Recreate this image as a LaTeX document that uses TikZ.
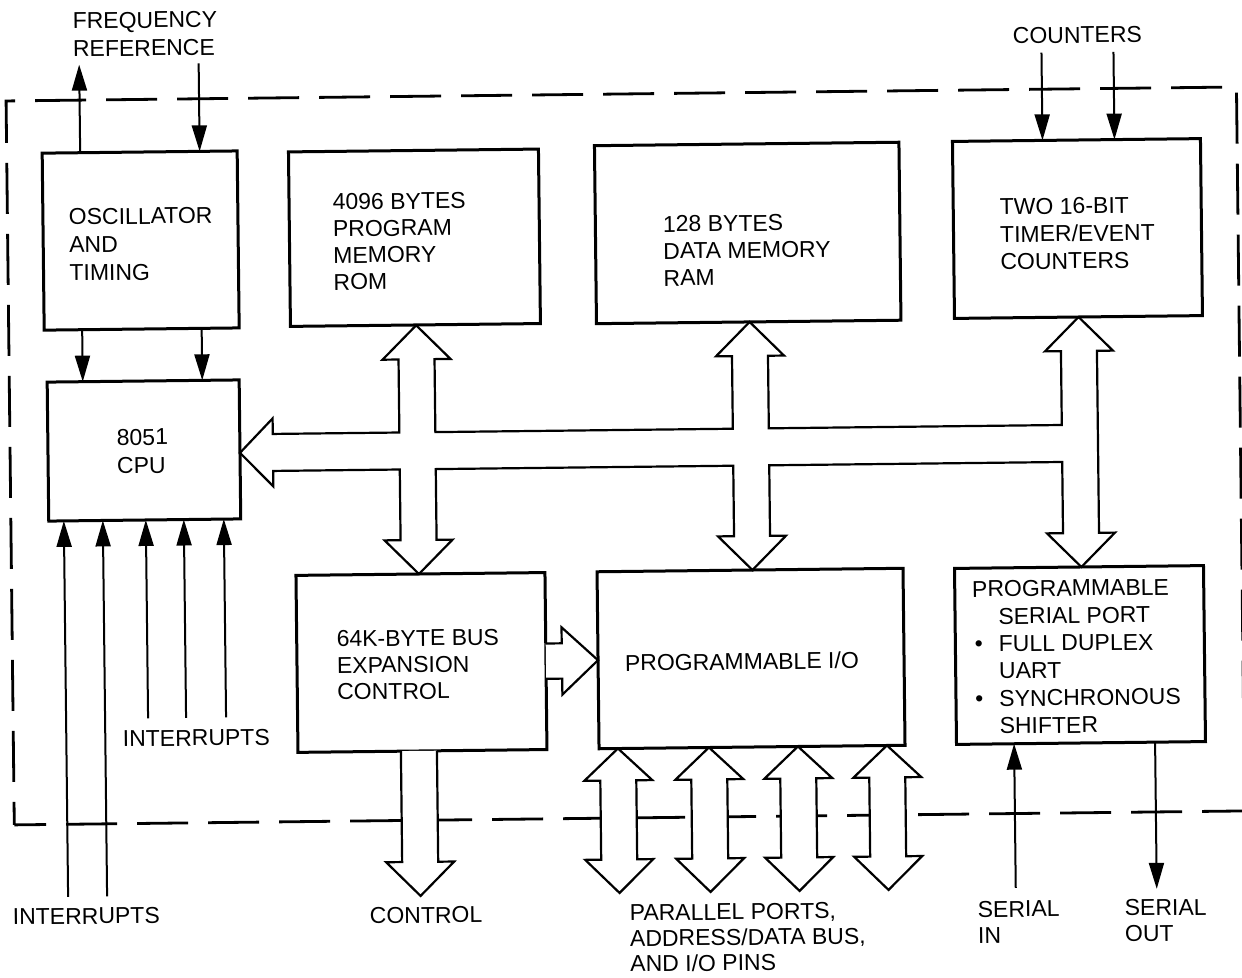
\documentclass[tikz,border=0pt]{standalone}
\usepackage{fontspec}
\setmainfont{Liberation Sans}
\usetikzlibrary{arrows.meta,calc}
\begin{document}
\begin{tikzpicture}[x=0.5pt,y=-0.5pt,
  box/.style={draw,line width=1.5pt,inner sep=0pt,outer sep=0pt},
  fat/.style={draw,fill=white,line width=1.1pt,line join=miter},
  sig/.style={line width=1pt,-{Triangle[length=13pt,width=7.5pt]}},
  lbl/.style={inner sep=0pt,outer sep=0pt,anchor=north west,align=left,font=\fontsize{11.5}{13.75}\selectfont},
  dframe/.style={line width=1.4pt,dash pattern=on 25.5pt off 10pt,dash phase=14pt}]
\useasboundingbox (0,0) rectangle (1242,978);
\begin{scope}[rotate around={0.65:(621,489)},transform shape]
% dashed chip outline
\draw[dframe] (10.5,818) -- (10.5,94) -- (1241,94) -- (1241,818) -- cycle;

% internal bus (fat outline)
\draw[fat] (240.4,448.5) -- (273.4,414.5) -- (273.4,430) -- (400,430) -- (400,357) -- (384,357) -- (418,323) -- (452,357) -- (436,357) -- (436,430)
  -- (733.5,430) -- (733.5,357.4) -- (717.5,357.4) -- (751.5,323.4) -- (785.5,357.4) -- (769.5,357.4) -- (769.5,430)
  -- (1062.5,430) -- (1062.5,356.2) -- (1046.5,356.2) -- (1080.5,322.2) -- (1114.5,356.2) -- (1098.5,356.2)
  -- (1098.5,538.2) -- (1114.5,538.2) -- (1080.5,572.2) -- (1046.5,538.2) -- (1062.5,538.2) -- (1062.5,467)
  -- (769.5,467) -- (769.5,537.5) -- (785.5,537.5) -- (751.5,571.5) -- (717.5,537.5) -- (733.5,537.5) -- (733.5,467)
  -- (436,467) -- (436,537.7) -- (452,537.7) -- (418,571.7) -- (384,537.7) -- (400,537.7) -- (400,467)
  -- (273.4,467) -- (273.4,482.5) -- cycle;

% boxes
\node[box,minimum width=97.5pt,minimum height=88.5pt] (osc) at (143.5,235.1) {};
\node[box,minimum width=96pt,minimum height=69.5pt] (cpu) at (144.4,445.1) {};
\node[box,minimum width=125pt,minimum height=87.25pt] (rom) at (417.3,235.4) {};
\node[box,minimum width=152.25pt,minimum height=89pt] (ram) at (750.6,234.4) {};
\node[box,minimum width=124pt,minimum height=88.5pt] (tmr) at (1080.4,233.7) {};
\node[box,minimum width=124.5pt,minimum height=88.5pt] (bx) at (419.5,660.2) {};
\node[box,minimum width=153pt,minimum height=88.5pt] (pio) at (749.1,660) {};
\node[box,minimum width=124.5pt,minimum height=88pt] (ser) at (1078.1,660.2) {};

% bus expansion -> programmable I/O
\draw[fat] ($(bx.east)+(0,-17.5)$) -- ++(16,0) -- ++(0,-16) -- (pio.west) -- ++(-36,34) -- ++(0,-16) -- ++(-16,0);
% control
\coordinate (ctl) at (416,893.7);
\coordinate (ctltop) at (ctl |- bx.south);
\draw[fat] ($(ctltop)+(-18,0)$) -- ++(0,111) -- ++(-16,0) -- (ctl) -- ++(34,-34) -- ++(-16,0) -- ++(0,-111);
% parallel ports
\foreach \c in {615,706,795,884}{
  \draw[fat] (pio.south -| \c,0) -- ++(34,32) -- ++(-16,0) -- ++(0,79) -- ++(16,0) -- ++(-34,33.5) -- ++(-34,-33.5) -- ++(16,0) -- ++(0,-79) -- ++(-16,0) -- cycle;
}

% thin signal arrows
\coordinate (fo) at (84,58.5);
\coordinate (fi) at (203.5,58.5);
\draw[sig] (osc.north -| fo) -- (fo);
\draw[sig] (fi) -- (osc.north -| fi);
\draw[sig] (osc.south -| fo) -- (cpu.north -| fo);
\draw[sig] (osc.south -| fi) -- (cpu.north -| fi);
\coordinate (c1) at (1046.5,57.5);
\coordinate (c2) at (1118.5,57.5);
\draw[sig] (c1) -- (tmr.north -| c1);
\draw[sig] (c2) -- (tmr.north -| c2);
\foreach \x/\y in {63.5/890.7,102.5/890.7,145.5/713,183.5/713,223.5/713}{
  \coordinate (irq) at (\x,\y);
  \draw[sig] (irq) -- (cpu.south -| irq);
}
\coordinate (sinp) at (1011.3,892.5);
\coordinate (soutp) at (1152.3,895);
\draw[sig] (sinp) -- (ser.south -| sinp);
\draw[sig] (ser.south -| soutp) -- (soutp);

% labels
\node[lbl,font=\fontsize{11.5}{14}\selectfont] (freqt) at (78,6.5) {FREQUENCY\\REFERENCE};
\node[lbl,font=\fontsize{11.5}{14}\selectfont] (osct) at (72,202.6) {OSCILLATOR\\AND\\TIMING};
\node[lbl,font=\fontsize{11.5}{14}\selectfont] (cput) at (117.4,423.6) {8051\\CPU};
\node[lbl,font=\fontsize{11.5}{13.35}\selectfont] (romt) at (336,190.6) {4096 BYTES\\PROGRAM\\MEMORY\\ROM};
\node[lbl,font=\fontsize{11.5}{13.5}\selectfont] (ramt) at (666,216.5) {128 BYTES\\DATA MEMORY\\RAM};
\node[lbl] (tmrt) at (1003,203) {TWO 16-BIT\\TIMER/EVENT\\COUNTERS};
\node[lbl] (cntt) at (1018,32) {COUNTERS};
\node[lbl,font=\fontsize{11.5}{13.25}\selectfont] (bxt) at (335,627.7) {64K-BYTE BUS\\EXPANSION\\CONTROL};
\node[lbl] (piot) at (623,654.4) {PROGRAMMABLE I/O};
\node[lbl,font=\fontsize{11.5}{13.7}\selectfont] (sert) at (971,585) {PROGRAMMABLE\\
\hspace*{13pt}SERIAL PORT\\
\makebox[13pt][l]{\hspace*{1pt}•}FULL DUPLEX\\
\hspace*{13pt}UART\\
\makebox[13pt][l]{\hspace*{1pt}•}SYNCHRONOUS\\
\hspace*{13pt}SHIFTER};
\node[lbl] (int1) at (120,725) {INTERRUPTS};
\node[lbl] (int2) at (8,902) {INTERRUPTS};
\node[lbl] (ctlt) at (365,905) {CONTROL};
\node[lbl,font=\fontsize{11.5}{12.75}\selectfont] (part) at (625,905) {PARALLEL PORTS,\\ADDRESS/DATA BUS,\\AND I/O PINS};
\node[lbl,font=\fontsize{11.5}{13}\selectfont] (sint) at (973,905.5) {SERIAL\\IN};
\node[lbl,font=\fontsize{11.5}{13}\selectfont] (soutt) at (1120,905.5) {SERIAL\\OUT};
\end{scope}
\end{tikzpicture}
\end{document}
